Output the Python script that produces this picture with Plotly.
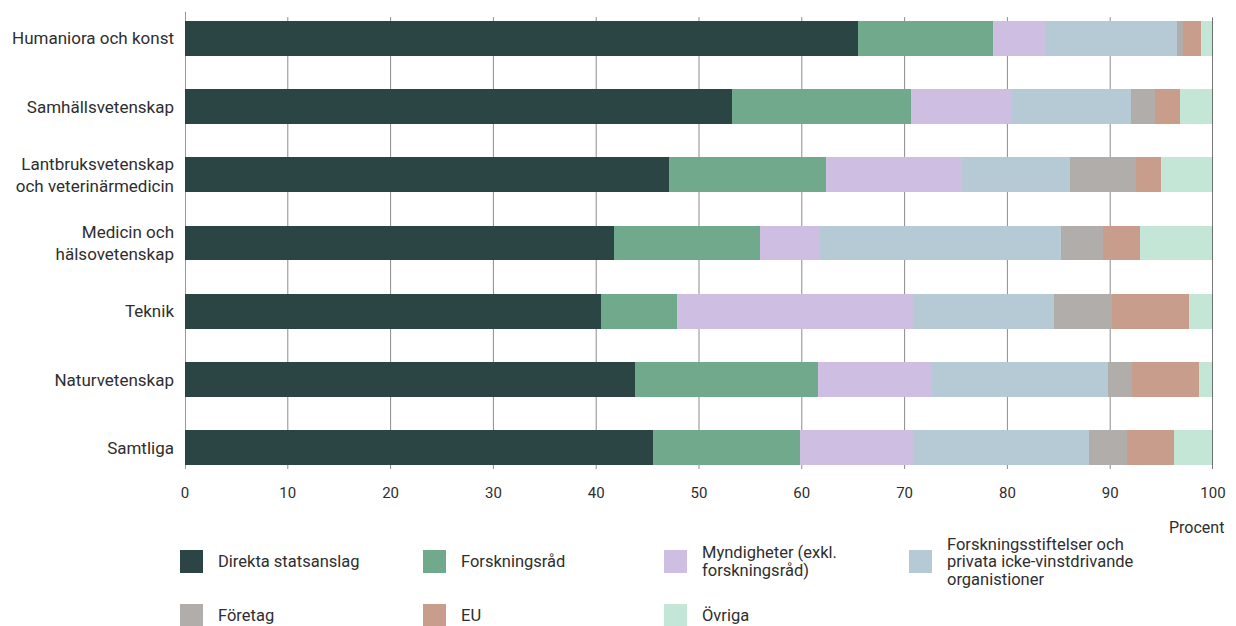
import plotly.graph_objects as go

categories = [
    "Humaniora och konst",
    "Samhällsvetenskap",
    "Lantbruksvetenskap<br>och veterinärmedicin",
    "Medicin och<br>hälsovetenskap",
    "Teknik",
    "Naturvetenskap",
    "Samtliga",
]

direkta = [65.5, 53.2, 47.1, 41.7, 40.5, 43.8, 45.5]
forskningsrad = [13.1, 17.4, 15.3, 14.2, 7.4, 17.8, 14.3]
myndigheter = [5.1, 9.8, 13.2, 5.9, 22.9, 11.1, 11.0]
stiftelser = [12.8, 11.6, 10.5, 23.4, 13.7, 17.1, 17.1]
foretag = [0.6, 2.4, 6.4, 4.1, 5.7, 2.3, 3.7]
eu = [1.7, 2.4, 2.4, 3.6, 7.5, 6.5, 4.6]
ovriga = [1.2, 3.2, 5.1, 7.1, 2.3, 1.4, 3.8]

series_names = [
    "Direkta statsanslag",
    "Forskningsråd",
    "Myndigheter (exkl.<br>forskningsråd)",
    "Forskningsstiftelser och<br>privata icke-vinstdrivande<br>organistioner",
    "Företag",
    "EU",
    "Övriga",
]
series_values = [direkta, forskningsrad, myndigheter, stiftelser, foretag, eu, ovriga]
colors = ["#2b4545", "#70a98c", "#cebee2", "#b5cad4", "#b1adab", "#c89d8b", "#c4e6d7"]

x_ticks = [0, 10, 20, 30, 40, 50, 60, 70, 80, 90, 100]

FONT = "Roboto, Arial, sans-serif"
TXT = "#2e2e2e"

# the page body has an 8px margin, so the figure starts at (8, 8)
OFF = 8
W, H = 1236 - OFF, 626 - OFF
PLOT_L, PLOT_R, PLOT_T, PLOT_B = 185, 1213, 8, 482   # in screen pixels
L = PLOT_L - OFF
R = 1236 - PLOT_R
T = PLOT_T - OFF
B = H - (PLOT_B - OFF)
PW, PH = PLOT_R - PLOT_L, PLOT_B - PLOT_T

n = len(categories)
spacing = 68.25
first_center = 38.3
y_top = -(first_center - PLOT_T) / spacing
y_bottom = y_top + PH / spacing


def px_x(px):
    return (px - PLOT_L) / PW


def px_y(py):
    return (PLOT_B - py) / PH


fig = go.Figure()
for name, vals, col in zip(series_names, series_values, colors):
    fig.add_trace(go.Bar(
        y=categories, x=vals, name=name.replace("<br>", " "), orientation="h",
        marker=dict(color=col, line=dict(width=0)),
        showlegend=False, hoverinfo="x+name",
    ))

shapes = []
for t in x_ticks[1:-1]:
    shapes.append(dict(type="line", xref="x", yref="y", x0=t, x1=t,
                       y0=-0.31, y1=n - 1 + 0.31, layer="below",
                       line=dict(color="#8c8c8c", width=1)))
shapes.append(dict(type="line", xref="x", yref="y", x0=0, x1=0,
                   y0=-0.39, y1=n - 1 + 0.31, layer="above",
                   line=dict(color="#333333", width=1)))
shapes.append(dict(type="line", xref="x", yref="y", x0=100, x1=100,
                   y0=-0.31, y1=n - 1 + 0.31, layer="above",
                   line=dict(color="#4a4a4a", width=1.5)))

annotations = []
col_left = [180, 423, 664, 909]
row_center = [561.5, 615.5]
line_h = 17.5
for i, (name, col) in enumerate(zip(series_names, colors)):
    r, c = divmod(i, 4)
    x0 = col_left[c]
    yc = row_center[r]
    shapes.append(dict(type="rect", xref="paper", yref="paper",
                       x0=px_x(x0), x1=px_x(x0 + 23),
                       y0=px_y(yc + 11.5), y1=px_y(yc - 11.5),
                       fillcolor=col, line=dict(width=0)))
    lines = name.split("<br>")
    for k, ln in enumerate(lines):
        ly = yc + (k - (len(lines) - 1) / 2) * line_h
        annotations.append(dict(xref="paper", yref="paper", x=px_x(x0 + 36), y=px_y(ly),
                                text=ln, showarrow=False, xanchor="left", yanchor="middle",
                                align="left", font=dict(family=FONT, size=16.5, color=TXT)))

annotations.append(dict(xref="paper", yref="paper", x=px_x(1226), y=px_y(527),
                        text="Procent", showarrow=False, xanchor="right", yanchor="middle",
                        font=dict(family=FONT, size=16, color=TXT)))

fig.update_layout(
    barmode="stack",
    bargap=0.49,
    width=W, height=H,
    margin=dict(l=L, r=R, t=T, b=B, pad=0, autoexpand=False),
    paper_bgcolor="white",
    plot_bgcolor="white",
    shapes=shapes,
    annotations=annotations,
    font=dict(family=FONT, size=15, color=TXT),
    xaxis=dict(range=[0, 100], tickvals=x_ticks, showgrid=False, zeroline=False,
               showline=False, ticks="", tickfont=dict(family=FONT, size=15, color=TXT),
               ticklabelstandoff=0, fixedrange=True),
    yaxis=dict(range=[y_bottom, y_top], showgrid=False, zeroline=False, showline=False,
               ticks="", tickfont=dict(family=FONT, size=17, color=TXT),
               ticklabelstandoff=10, fixedrange=True),
)

fig.write_html("out.html")
